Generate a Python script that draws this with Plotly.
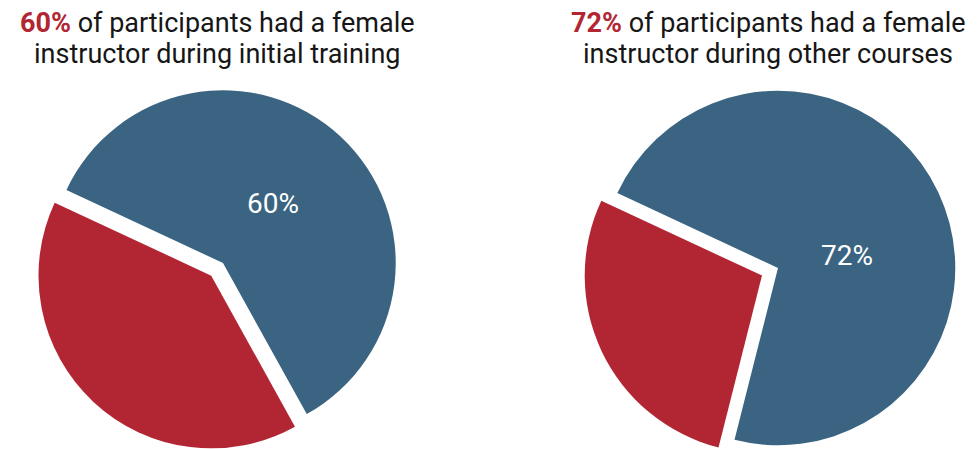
import plotly.graph_objects as go

# data
groups = ['initial training', 'other courses']
female_pct = [60, 72]
male_pct = [40, 28]
slice_labels = ['Female instructor', 'Male instructor']

blue = '#3A6482'
red = '#B22634'

W, H = 979, 470

def px_domain(x0, x1, top, bottom):
    # pixel box -> paper domain
    return dict(x=[x0 / W, x1 / W], y=[(H - bottom) / H, (H - top) / H])

boxes = [
    px_domain(25, 405, 65, 445),
    px_domain(575, 965, 65, 455),
]

fig = go.Figure()
for i, g in enumerate(groups):
    fig.add_trace(go.Pie(
        labels=slice_labels,
        values=[female_pct[i], male_pct[i]],
        textinfo='none',
        marker=dict(colors=[blue, red], line=dict(width=0)),
        pull=[0, 0.1],
        sort=False,
        direction='clockwise',
        rotation=-65,
        domain=boxes[i],
        hoverinfo='label+percent',
        showlegend=False,
    ))

# percent label inside the blue slice
label_pos = [(265, 195), (839, 247)]
for i, g in enumerate(groups):
    fig.add_annotation(
        x=label_pos[i][0] / W, y=1 - label_pos[i][1] / H,
        xref='paper', yref='paper', showarrow=False,
        xanchor='center', yanchor='middle',
        text=f'{female_pct[i]}%',
        font=dict(family='Roboto', size=28, color='white'),
    )

# two-line headline above each pie
title_x = [209, 760]
line_y = [15, 46]
for i, g in enumerate(groups):
    lines = [
        f'<b><span style="color:{red}">{female_pct[i]}%</span></b> of participants had a female',
        f'instructor during {g}',
    ]
    for j, t in enumerate(lines):
        fig.add_annotation(
            x=title_x[i] / W, y=1 - line_y[j] / H, xref='paper', yref='paper',
            xanchor='center', yanchor='middle', showarrow=False,
            text=t,
            font=dict(family='Roboto', size=27, color='#161616'),
        )

fig.update_layout(
    width=W, height=H,
    margin=dict(l=0, r=0, t=0, b=0),
    paper_bgcolor='white',
    plot_bgcolor='white',
)

fig.write_html('out.html')
